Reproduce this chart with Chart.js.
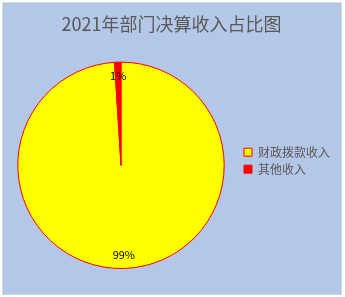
<!DOCTYPE html>
<html lang="zh">
  <head>
    <meta charset="UTF-8" />
    <title>2021年部门决算收入占比图</title>
    <script src="https://cdn.jsdelivr.net/npm/chart.js"></script>
    <style>
      body {
        margin: 0;
        background: #ffffff;
      }
      .frame {
        position: absolute;
        left: 2px;
        top: 2px;
        width: 338px;
        height: 291px;
        border: 1px solid #d9d9d9;
        background: #b4c7e7;
      }
      canvas {
        display: block;
      }
    </style>
  </head>
  <body>
    <div class="frame">
      <canvas id="myChart" width="338" height="291"></canvas>
    </div>

    <script>
      // data
      var categories = ["财政拨款收入", "其他收入"];
      var shares = [99, 1];
      var pctLabels = ["99%", "1%"];

      var fontFamily = "'Noto Sans CJK SC', 'Noto Sans', sans-serif";

      // draws the percentage labels just inside the outer edge of each slice
      var pieLabels = {
        id: "pieLabels",
        afterDatasetsDraw: function(chart) {
          var ctx = chart.ctx;
          var arcs = chart.getDatasetMeta(0).data;
          ctx.save();
          ctx.fillStyle = "#000000";
          ctx.font = "11px " + fontFamily;
          ctx.textAlign = "center";
          ctx.textBaseline = "middle";
          arcs.forEach(function(arc, i) {
            var p = arc.getProps(["x", "y", "startAngle", "endAngle", "outerRadius"], true);
            var mid = (p.startAngle + p.endAngle) / 2;
            var r = p.outerRadius - 14;
            ctx.fillText(pctLabels[i], p.x + Math.cos(mid) * r, p.y + Math.sin(mid) * r);
          });
          ctx.restore();
        }
      };

      var ctx = document.getElementById("myChart").getContext("2d");
      new Chart(ctx, {
        type: "pie",
        data: {
          labels: categories,
          datasets: [{
            data: shares,
            backgroundColor: ["#ffff00", "#ff0000"],
            borderColor: "#ff0000",
            borderWidth: 1
          }]
        },
        options: {
          responsive: false,
          animation: false,
          layout: {
            padding: { left: 0, right: 1, top: 0, bottom: 25 }
          },
          plugins: {
            title: {
              display: true,
              text: "2021年部门决算收入占比图",
              color: "#595959",
              font: { family: fontFamily, size: 18, weight: "normal" },
              padding: { top: 10, bottom: 27 }
            },
            legend: {
              position: "right",
              // empty title only used to push the items down
              title: {
                display: true,
                text: "",
                font: { size: 12 },
                padding: { top: 17, bottom: 18 }
              },
              labels: {
                boxWidth: 8,
                boxHeight: 8,
                padding: 5,
                color: "#595959",
                font: { family: fontFamily, size: 12 }
              }
            },
            tooltip: { enabled: false }
          }
        },
        plugins: [pieLabels]
      });
    </script>
  </body>
</html>
